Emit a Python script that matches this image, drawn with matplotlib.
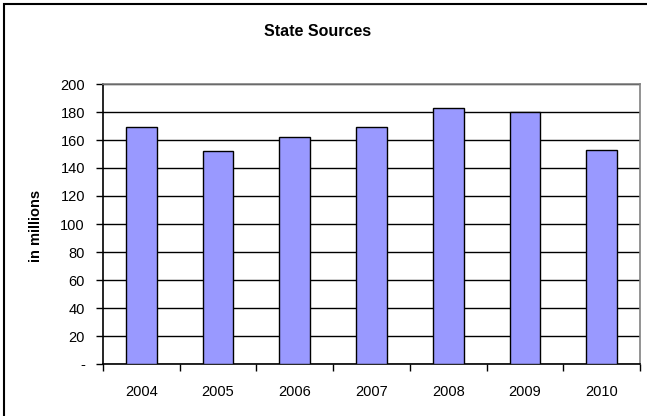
import matplotlib
matplotlib.use("Agg")
import matplotlib.pyplot as plt
from matplotlib.patches import Rectangle

years = ["2004", "2005", "2006", "2007", "2008", "2009", "2010"]
values = [169, 152, 162, 169, 183, 180, 153]
y_ticks = [0, 20, 40, 60, 80, 100, 120, 140, 160, 180, 200]
y_tick_labels = ["-", "20", "40", "60", "80", "100", "120", "140", "160", "180", "200"]

plt.rcParams["font.family"] = ["Liberation Sans", "DejaVu Sans"]

W, H = 647, 416
fig = plt.figure(figsize=(W / 100, H / 100), dpi=100)

# outer chart frame (runs off the right and bottom edges)
fig.patches.append(Rectangle((4 / W, -0.05), 1.2, 1 - 4 / H + 0.05,
                             transform=fig.transFigure, fill=False,
                             edgecolor="black", linewidth=1.5))

left, right, top, bottom = 103, 640, 84, 364
ax = fig.add_axes([left / W, 1 - bottom / H, (right - left) / W, (bottom - top) / H])

x = list(range(len(years)))
ax.bar(x, values, width=0.4, color="#9999ff", edgecolor="black", linewidth=1.0, zorder=3)

ax.set_xlim(-0.5, len(years) - 0.5)
ax.set_ylim(0, 200)
ax.set_yticks(y_ticks)
ax.set_yticklabels(y_tick_labels, fontsize=10.5)
ax.yaxis.grid(True, color="black", linewidth=1.0, zorder=0)
ax.set_axisbelow(True)

ax.set_xticks(x)
ax.set_xticklabels(years, fontsize=10.5)
ax.tick_params(axis="x", length=0, pad=15)
ax.set_xticks([i - 0.5 for i in range(len(years) + 1)], minor=True)
ax.tick_params(axis="x", which="minor", length=5, direction="out", width=1)
ax.tick_params(axis="y", length=5, direction="out", width=1, pad=8)

for s in ("top", "right"):
    ax.spines[s].set_color("#808080")
    ax.spines[s].set_linewidth(1.2)
for s in ("left", "bottom"):
    ax.spines[s].set_color("black")
    ax.spines[s].set_linewidth(1.2)

fig.text(318 / W, 1 - 31 / H, "State Sources",
         ha="center", va="center", fontsize=11.5, fontweight="bold")
fig.text(36 / W, 1 - 226 / H, "in millions", rotation=90,
         ha="center", va="center", fontsize=10.5, fontweight="bold")

fig.savefig("out.png", dpi=100)
